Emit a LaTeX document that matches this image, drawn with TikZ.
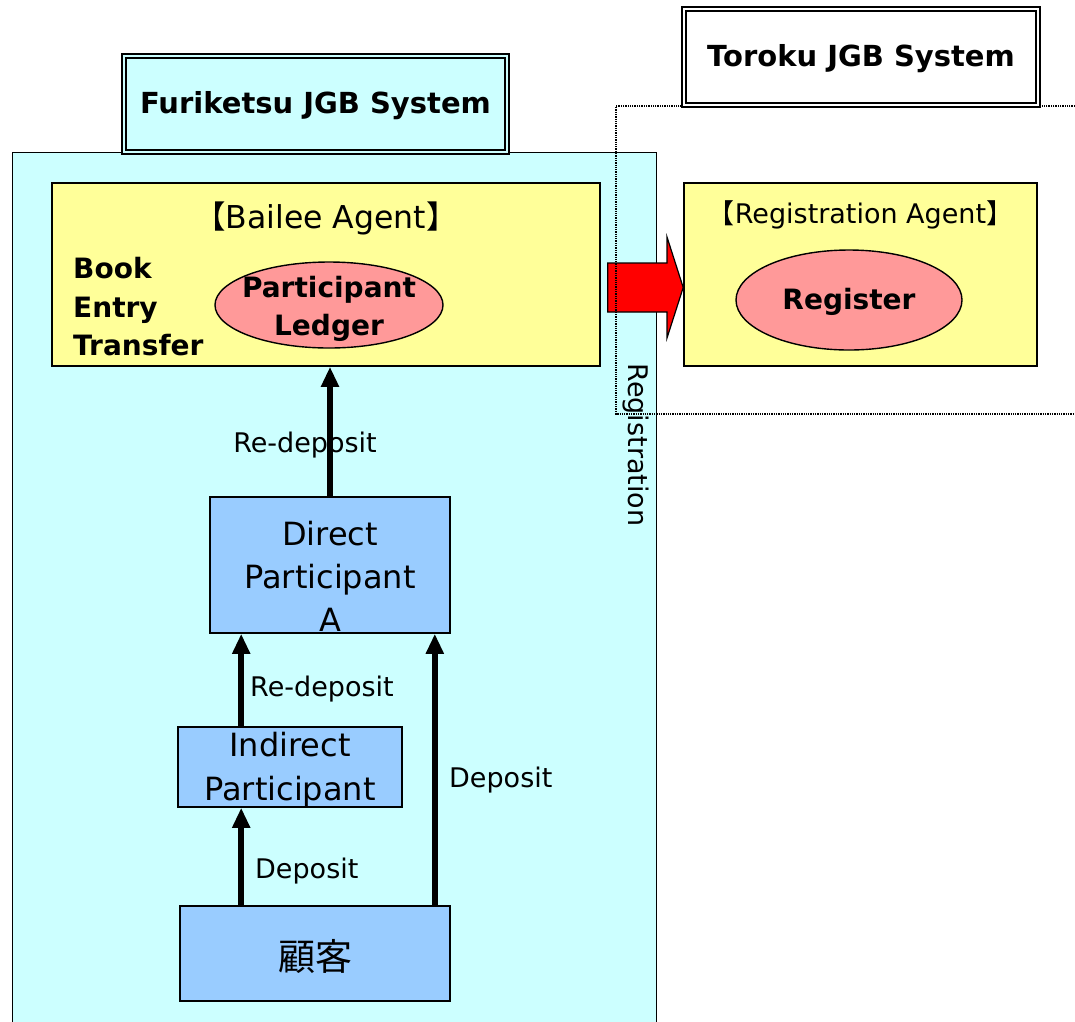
\documentclass[tikz,border=0pt]{standalone}
\usepackage{fontspec}
\setmainfont{DejaVu Sans}
\newfontfamily\cjk{Noto Sans CJK JP}
\usetikzlibrary{arrows.meta,shapes.geometric,calc}
\definecolor{bgcyan}{HTML}{CCFFFF}
\definecolor{agentyellow}{HTML}{FFFF99}
\definecolor{ledgerpink}{HTML}{FF9999}
\definecolor{partblue}{HTML}{99CCFF}
\tikzset{
  titlebox/.style={draw=black, double=#1, line width=2pt, double distance=2.5pt, fill=#1, inner sep=0pt},
  agentbox/.style={draw=black, line width=1.6pt, fill=agentyellow, inner sep=0pt},
  ledger/.style={draw=black, line width=1.4pt, ellipse, fill=ledgerpink, inner sep=0pt},
  partbox/.style={draw=black, line width=1.6pt, fill=partblue, inner sep=0pt},
  flow/.style={line width=5.5pt, -{Triangle[width=17pt,length=20pt]}},
  lbl/.style={font=\fontsize{27}{32}\selectfont, inner sep=0pt},
  titletext/.style={font=\fontsize{29}{34}\selectfont\bfseries, inner sep=0pt},
  bigtext/.style={font=\fontsize{32}{43}\selectfont, align=center, inner sep=0pt},
  boldtext/.style={font=\fontsize{28}{38.5}\selectfont\bfseries, inner sep=0pt},
  region/.style={densely dotted, line width=1.3pt, draw=black}
}
\begin{document}
\begin{tikzpicture}[x=1pt,y=-1pt]
\useasboundingbox (0,0) rectangle (1075,1021);
\clip (0,0) rectangle (1075,1021);
% Furiketsu system area
\node[draw=black, line width=1.4pt, fill=bgcyan, minimum width=644pt, minimum height=900pt, inner sep=0pt, anchor=north west] (furi) at (12,152) {};
\node[titlebox=bgcyan, minimum width=383pt, minimum height=96pt] (furititle) at (315.5,104) {};
\node[titletext] (furititletext) at (315.5,106) {Furiketsu JGB System};
% Bailee agent
\node[agentbox, minimum width=548pt, minimum height=183pt] (bailee) at (326,274.5) {};
\node[font=\fontsize{31.5}{36}\selectfont, inner sep=0pt] (baileetext) at (326,218) {{\cjk 【}Bailee Agent{\cjk 】}};
\node[boldtext, align=left, anchor=west] (bet) at (73,307) {Book\\Entry\\Transfer};
\node[ledger, minimum width=228pt, minimum height=86pt] (ledger) at (329,305) {};
\node[boldtext, align=center] (ledgertext) at (329,309) {Participant\\Ledger};
% Registration agent
\node[agentbox, minimum width=353pt, minimum height=183pt] (regagent) at (860.5,274.5) {};
\node[font=\fontsize{27}{32}\selectfont, inner sep=0pt] (regagenttext) at (860.5,215) {{\cjk 【}Registration Agent{\cjk 】}};
\node[ledger, minimum width=226pt, minimum height=100pt] (register) at (849,300) {};
\node[font=\fontsize{28}{36}\selectfont\bfseries, inner sep=0pt] (registertext) at (849,302) {Register};
% participants
\node[partbox, minimum width=240pt, minimum height=136pt] (direct) at (330,565) {};
\node[bigtext] (directtext) at (330,576) {Direct\\Participant\\A};
\node[partbox, minimum width=224pt, minimum height=80pt] (indirect) at (290,767) {};
\node[bigtext, font=\fontsize{32}{44}\selectfont] (indirecttext) at (290,770) {Indirect\\Participant};
\node[partbox, minimum width=270pt, minimum height=95pt] (customer) at (315,953.5) {};
\node[font=\cjk\fontsize{37}{40}\selectfont, inner sep=0pt] (customertext) at (315,956) {顧客};
% flows
\draw[flow] (direct.north) -- (direct.north |- bailee.south);
\coordinate (c1) at ([xshift=62pt]customer.north west);
\coordinate (i1) at ([xshift=64pt]indirect.north west);
\coordinate (c2) at ([xshift=-16pt]customer.north east);
\draw[flow] (c1) -- (c1 |- indirect.south);
\draw[flow] (i1) -- (i1 |- direct.south);
\draw[flow] (c2) -- (c2 |- direct.south);
\node[lbl] (l1) at (305,445) {Re-deposit};
\node[lbl, anchor=west] (l2) at (250,689) {Re-deposit};
\node[lbl, anchor=west] (l3) at (255,871) {Deposit};
\node[lbl, anchor=west] (l4) at (449,780) {Deposit};
% registration arrow
\coordinate (ra) at ([xshift=7pt]bailee.east);
\filldraw[fill=red, draw=black, line width=1.2pt]
  (ra |- 0,263) -- (667,263) -- (667,237) -- (regagent.west |- 0,287.5) -- (667,338) -- (667,312) -- (ra |- 0,312) -- cycle;
\node[lbl, rotate=-90] (regtext) at (636,445) {Registration};
% Toroku region
\draw[region] (1075,106) -- (616,106) -- (616,414) -- (1075,414);
\node[titlebox=white, minimum width=354pt, minimum height=96pt] (toroku) at (861,57) {};
\node[titletext] (torokutext) at (861,59) {Toroku JGB System};
\end{tikzpicture}
\end{document}
